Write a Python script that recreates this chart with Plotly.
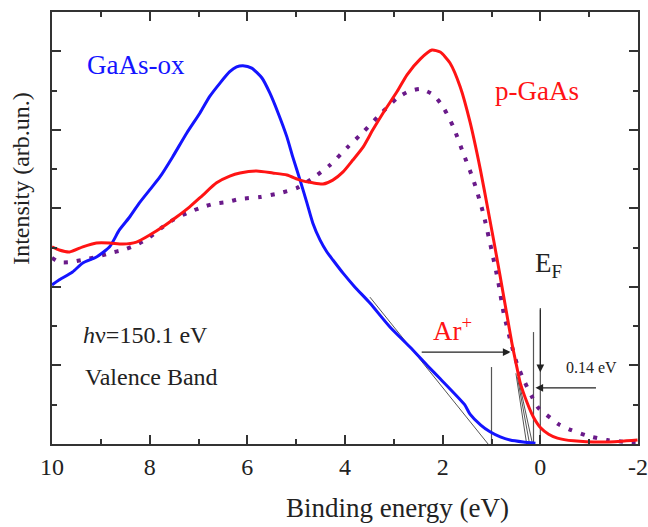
import plotly.graph_objects as go

# ---- data (binding energy in eV, intensity in arbitrary units) ----
ox_x = [10.0, 9.85, 9.58, 9.37, 9.09, 8.82, 8.62, 8.41, 8.21, 8.0, 7.79, 7.53, 7.24, 6.97,
        6.77, 6.56, 6.36, 6.22, 6.09, 5.91, 5.70, 5.54, 5.37, 5.19, 5.07, 4.92, 4.78, 4.66,
        4.51, 4.37, 4.25, 4.04, 3.80, 3.49, 3.08, 2.67, 2.30, 2.05, 1.55, 1.44, 1.22, 1.03,
        0.82, 0.62, 0.35, 0.10]
ox_y = [4.05, 4.18, 4.38, 4.61, 4.76, 5.02, 5.45, 5.78, 6.14, 6.47, 6.80, 7.31, 7.92, 8.43,
        8.85, 9.19, 9.48, 9.60, 9.63, 9.57, 9.32, 8.94, 8.43, 7.82, 7.31, 6.72, 6.14, 5.63,
        5.19, 4.89, 4.69, 4.35, 4.00, 3.59, 2.98, 2.47, 1.98, 1.66, 1.00, 0.76, 0.48, 0.31,
        0.18, 0.10, 0.05, 0.02]

p_x = [10.0, 9.85, 9.64, 9.37, 9.09, 8.82, 8.55, 8.27, 8.0, 7.73, 7.45, 7.18, 6.91, 6.63,
       6.36, 6.15, 5.81, 5.48, 5.19, 4.92, 4.66, 4.45, 4.25, 4.04, 3.84, 3.63, 3.43, 3.22,
       2.93, 2.73, 2.46, 2.22, 2.05, 1.85, 1.64, 1.44, 1.23, 1.07, 0.95, 0.82, 0.70, 0.58,
       0.48, 0.41, 0.27, 0.14, 0.0, -0.17, -0.35, -0.68, -1.37, -1.99]
p_y = [5.02, 4.94, 4.89, 5.02, 5.12, 5.12, 5.09, 5.14, 5.32, 5.53, 5.78, 6.04, 6.34, 6.65,
       6.82, 6.90, 6.95, 6.90, 6.85, 6.72, 6.65, 6.62, 6.72, 6.93, 7.23, 7.56, 8.00, 8.43,
       8.98, 9.40, 9.80, 10.03, 9.98, 9.70, 9.09, 8.20, 7.00, 5.95, 5.15, 4.25, 3.40, 2.55,
       1.95, 1.55, 1.05, 0.68, 0.42, 0.25, 0.15, 0.08, 0.05, 0.10]

ar_x = [10.0, 9.85, 9.64, 9.37, 9.09, 8.82, 8.55, 8.27, 8.0, 7.73, 7.53, 7.24, 6.97, 6.71,
        6.42, 6.15, 5.74, 5.33, 4.98, 4.66, 4.31, 3.96, 3.63, 3.29, 2.93, 2.73, 2.46, 2.19,
        1.99, 1.78, 1.58, 1.37, 1.17, 0.87, 0.75, 0.58, 0.48, 0.34, 0.17, 0.035, -0.21,
        -0.38, -0.62, -0.96, -1.37, -1.78, -1.99]
ar_y = [4.74, 4.63, 4.63, 4.69, 4.76, 4.86, 4.94, 5.07, 5.27, 5.53, 5.70, 5.88, 6.01, 6.11,
        6.16, 6.24, 6.29, 6.39, 6.52, 6.77, 7.10, 7.54, 7.94, 8.38, 8.81, 8.96, 9.04, 8.89,
        8.58, 8.07, 7.41, 6.72, 5.88, 4.18, 3.33, 2.48, 2.05, 1.63, 1.20, 0.91, 0.66,
        0.50, 0.36, 0.21, 0.10, 0.05, 0.05]

# construction lines (extrapolations) in data units
tangent_ox = ([3.49, 1.07], [3.74, 0.0])
tangents_edge = [([0.50, 0.28], [1.80, 0.0]), ([0.47, 0.22], [1.70, 0.0]), ([0.44, 0.16], [1.60, 0.0])]
verticals = [(1.0, 1.96), (0.14, 2.85), (0.0, 3.46)]

x_ticks = [10, 8, 6, 4, 2, 0, -2]
x_ticklabels = ["10", "8", "6", "4", "2", "0", "-2"]

FONT = "Liberation Serif, Times New Roman, serif"
BLUE = "#1414ff"
RED = "#ff1414"
PURPLE = "#6a1a8a"
GREY = "#555555"

fig = go.Figure()

# construction lines first (under curves)
fig.add_trace(go.Scatter(x=tangent_ox[0], y=tangent_ox[1], mode="lines",
                         line=dict(color=GREY, width=1), showlegend=False, hoverinfo="skip"))
for tx, ty in tangents_edge:
    fig.add_trace(go.Scatter(x=tx, y=ty, mode="lines",
                             line=dict(color=GREY, width=1), showlegend=False, hoverinfo="skip"))
for vx, vtop in verticals:
    fig.add_trace(go.Scatter(x=[vx, vx], y=[0, vtop], mode="lines",
                             line=dict(color=GREY, width=1.2), showlegend=False, hoverinfo="skip"))

fig.add_trace(go.Scatter(x=ar_x, y=ar_y, mode="lines", name="Ar+",
                         line=dict(color=PURPLE, width=4, dash="4px,9px", shape="spline", smoothing=0.6),
                         showlegend=False))
fig.add_trace(go.Scatter(x=ox_x, y=ox_y, mode="lines", name="GaAs-ox",
                         line=dict(color=BLUE, width=3, shape="spline", smoothing=0.6),
                         showlegend=False))
fig.add_trace(go.Scatter(x=p_x, y=p_y, mode="lines", name="p-GaAs",
                         line=dict(color=RED, width=3, shape="spline", smoothing=0.6),
                         showlegend=False))

axis_common = dict(showline=True, linecolor="#333333", linewidth=1.5, mirror="ticks",
                   ticks="inside", tickcolor="#333333", ticklen=9, tickwidth=1.5,
                   showgrid=False, zeroline=False, automargin=False)

fig.update_xaxes(range=[10, -2], tickvals=x_ticks, ticktext=x_ticklabels,
                 tickfont=dict(family=FONT, size=24, color="#222222"),
                 minor=dict(dtick=1, tick0=0, ticks="inside", ticklen=5, tickcolor="#333333",
                            tickwidth=1.5, showgrid=False),
                 **axis_common)
fig.update_yaxes(range=[0, 11], tick0=0, dtick=2, showticklabels=False,
                 minor=dict(dtick=1, tick0=0, ticks="inside", ticklen=5, tickcolor="#333333",
                            tickwidth=1.5, showgrid=False),
                 **axis_common)

def txt(x, y, s, color, size, xanchor="center", yanchor="middle"):
    fig.add_annotation(x=x, y=y, xref="x", yref="y", text=s, showarrow=False,
                       xanchor=xanchor, yanchor=yanchor,
                       font=dict(family=FONT, size=size, color=color))

txt(8.27, 9.65, "GaAs-ox", BLUE, 27)
txt(0.06, 8.99, "p-GaAs", RED, 27)
txt(9.41, 2.78, "<i>h</i>ν=150.1 eV", "#222222", 24, xanchor="left")
txt(9.37, 1.71, "Valence Band", "#222222", 24, xanchor="left")
txt(1.80, 2.93, "Ar<sup>+</sup>", RED, 27)
txt(0.16, 4.55, "E<sub>F</sub>", "#222222", 27, xanchor="left")
txt(-1.05, 1.94, "0.14 eV", "#222222", 16)

def arrow(x0, y0, x1, y1):
    fig.add_annotation(x=x1, y=y1, ax=x0, ay=y0, xref="x", yref="y", axref="x", ayref="y",
                       text="", showarrow=True, arrowhead=2, arrowsize=1.4, arrowwidth=1.1,
                       arrowcolor="#222222", standoff=0)

arrow(2.46, 2.34, 0.61, 2.34)
arrow(-1.17, 1.43, 0.10, 1.43)
arrow(0.0, 3.46, 0.0, 1.83)

fig.add_annotation(x=-0.053, y=0.616, xref="paper", yref="paper", text="Intensity (arb.un.)",
                   showarrow=False, textangle=-90, xanchor="center", yanchor="middle",
                   font=dict(family=FONT, size=24, color="#222222"))
fig.add_annotation(x=0.59, y=-0.148, xref="paper", yref="paper", text="Binding energy (eV)",
                   showarrow=False, xanchor="center", yanchor="middle",
                   font=dict(family=FONT, size=27, color="#222222"))

fig.update_layout(width=648, height=527, margin=dict(l=52, r=10, t=12, b=83),
                  plot_bgcolor="white", paper_bgcolor="white", showlegend=False)

fig.write_html("out.html")
